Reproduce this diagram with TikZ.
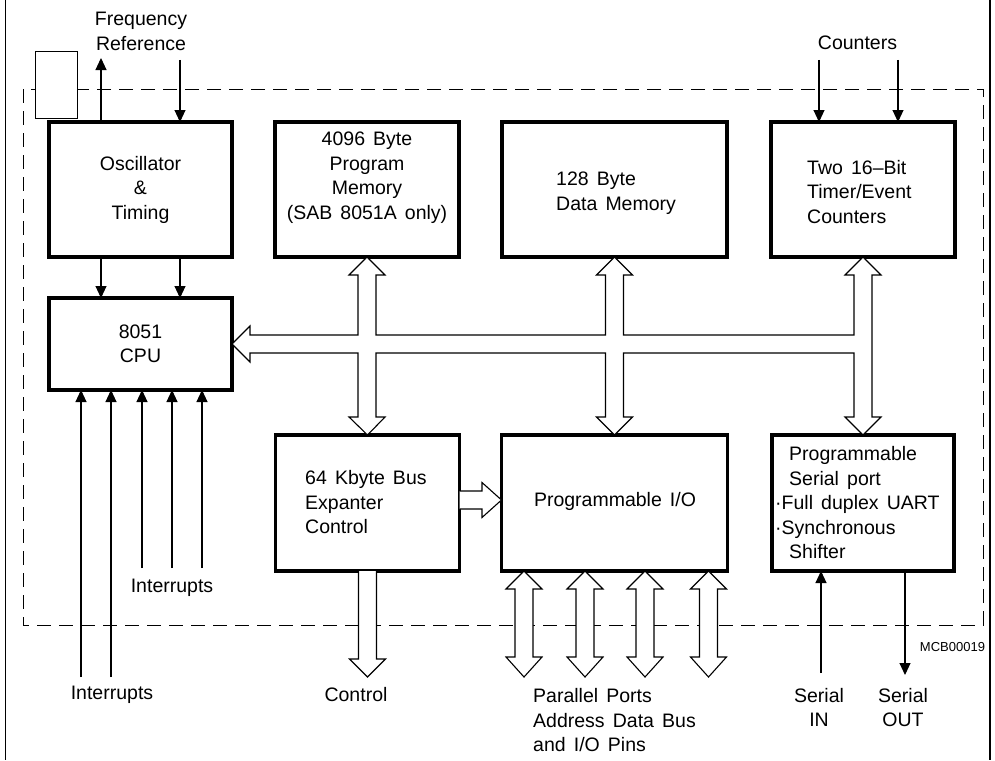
\documentclass[tikz,border=0pt]{standalone}
\usepackage{fontspec}
\setmainfont{Liberation Sans}[WordSpace=1.5]
\usetikzlibrary{arrows.meta,calc}
\begin{document}
\begin{tikzpicture}[x=1pt,y=-1pt,
  txt/.style={font=\fontsize{19.5}{24.5}\selectfont,inner sep=0pt},
  box/.style={draw,line width=3.5pt,inner sep=0pt,outer sep=0pt,font=\fontsize{19.5}{24.5}\selectfont},
  arr/.style={-{Triangle[length=12pt,width=11pt]},line width=1.1pt},
  bus/.style={draw,fill=white,line width=1.1pt,line join=miter},
  framel/.style={line width=1.4pt},
  outline/.style={line width=1pt,dash pattern=on 14pt off 8pt}]
\path[use as bounding box] (0,0) rectangle (995,760);
% outer frame lines
\draw[framel] (5.5,0) -- (5.5,760);
\draw[framel] (990,0) -- (990,760);
% dashed chip outline
\draw[outline] (23,89) rectangle (983,625);
\node[draw,fill=white,line width=1pt,minimum width=42pt,minimum height=66pt,inner sep=0pt] (xtal) at (56,85) {};
% boxes
\node[box,minimum width=183pt,minimum height=135pt,align=center] (osc) at (140.5,189.5) {Oscillator\\\&\\Timing};
\node[box,minimum width=183pt,minimum height=92pt,align=center] (cpu) at (140.5,344) {8051\\CPU};
\node[box,minimum width=184pt,minimum height=135pt] (pm) at (367,189.5) {};
\node[txt,align=center] (pmT) at (367,177.5) {4096 Byte\\Program\\Memory\\(SAB 8051A only)};
\node[box,minimum width=225pt,minimum height=135pt] (dm) at (614.5,189.5) {};
\node[txt,align=left,anchor=west] (dmT) at (556,193) {128 Byte\\Data Memory};
\node[box,minimum width=184pt,minimum height=135pt] (tm) at (863,189.5) {};
\node[txt,align=left,anchor=west] (tmT) at (807,192) {Two 16–Bit\\Timer/Event\\Counters};
\node[box,minimum width=184pt,minimum height=136pt] (km) at (367.5,503) {};
\node[txt,align=left,anchor=west] (kmT) at (305,502.5) {64 Kbyte Bus\\Expanter\\Control};
\node[box,minimum width=226pt,minimum height=136pt] (io) at (614.5,503) {};
\node[txt] (ioT) at (615,501) {Programmable I/O};
\node[box,minimum width=182pt,minimum height=136pt] (sp) at (863,503) {};
\node[txt,align=left,anchor=west] (spT) at (775,503) {\hspace*{14pt}Programmable\\\hspace*{14pt}Serial port\\·Full duplex UART\\·Synchronous\\\hspace*{14pt}Shifter};
% labels
\node[txt,align=center] (fref) at (141,31.5) {Frequency\\Reference};
\node[txt] (cnt) at (857.5,43) {Counters};
\node[txt] (intI) at (172,588) {Interrupts};
\node[txt] (intO) at (112,695) {Interrupts};
\node[txt] (ctl) at (356,695) {Control};
\node[txt,align=left,anchor=west] (par) at (533,720.5) {Parallel Ports\\Address Data Bus\\and I/O Pins};
\node[txt,align=center] (sin) at (819,707.5) {Serial\\IN};
\node[txt,align=center] (sout) at (903,707.5) {Serial\\OUT};
\node[font=\fontsize{13}{15}\selectfont,inner sep=0pt] (mcb) at (952.5,647) {MCB00019};
% thin arrows
\coordinate (f1) at (101,58);
\coordinate (f2) at (180,60);
\draw[arr] (osc.north -| f1) -- (f1);
\draw[arr] (f2) -- (osc.north -| f2);
\draw[arr] (osc.south -| f1) -- (cpu.north -| f1);
\draw[arr] (osc.south -| f2) -- (cpu.north -| f2);
\coordinate (c1) at (819,60);
\coordinate (c2) at (898,60);
\draw[arr] (c1) -- (tm.north -| c1);
\draw[arr] (c2) -- (tm.north -| c2);
\coordinate (i1) at (81,677);
\coordinate (i2) at (111,677);
\coordinate (i3) at (142,568);
\coordinate (i4) at (172,568);
\coordinate (i5) at (202,568);
\foreach \i in {i1,i2,i3,i4,i5} \draw[arr] (\i) -- (cpu.south -| \i);
\coordinate (si) at (821,673);
\coordinate (so) at (905,675);
\draw[arr] (si) -- (sp.south -| si);
\draw[arr] (sp.south -| so) -- (so);
% internal bus
\draw[bus] (cpu.east) -- (250,326) -- (250,335) -- (358,335) -- (358,275) -- (349,275) -- (pm.south) -- (385,275) -- (376,275) -- (376,335)
  -- (605.5,335) -- (605.5,275) -- (596.5,275) -- (dm.south) -- (632.5,275) -- (623.5,275) -- (623.5,335)
  -- (854,335) -- (854,275) -- (845,275) -- (tm.south) -- (881,275) -- (872,275) -- (872,417) -- (881,417) -- (sp.north) -- (845,417) -- (854,417) -- (854,353)
  -- (623.5,353) -- (623.5,417) -- (632.5,417) -- (io.north) -- (596.5,417) -- (605.5,417) -- (605.5,353)
  -- (376,353) -- (376,417) -- (385,417) -- (km.north) -- (349,417) -- (358,417) -- (358,353)
  -- (250,353) -- (250,362) -- cycle;
% bus expander to I/O
\draw[bus] (km.east |- 0,491) -- (482,491) -- (482,482.5) -- (io.west |- 0,500) -- (482,517.5) -- (482,509) -- (km.east |- 0,509);
% control
\draw[bus] (358.5,571) -- (358.5,659) -- (349.5,659) -- (367.5,677) -- (385.5,659) -- (376.5,659) -- (376.5,571);
% parallel ports
\foreach \xc in {524,585,645,708.5} {
  \draw[bus] (\xc,571) -- ++(18,18) -- ++(-9,0) -- (\xc+9,657) -- ++(9,0) -- (\xc,677) -- (\xc-18,657) -- ++(9,0) -- (\xc-9,589) -- ++(-9,0) -- cycle;
}
\end{tikzpicture}
\end{document}
